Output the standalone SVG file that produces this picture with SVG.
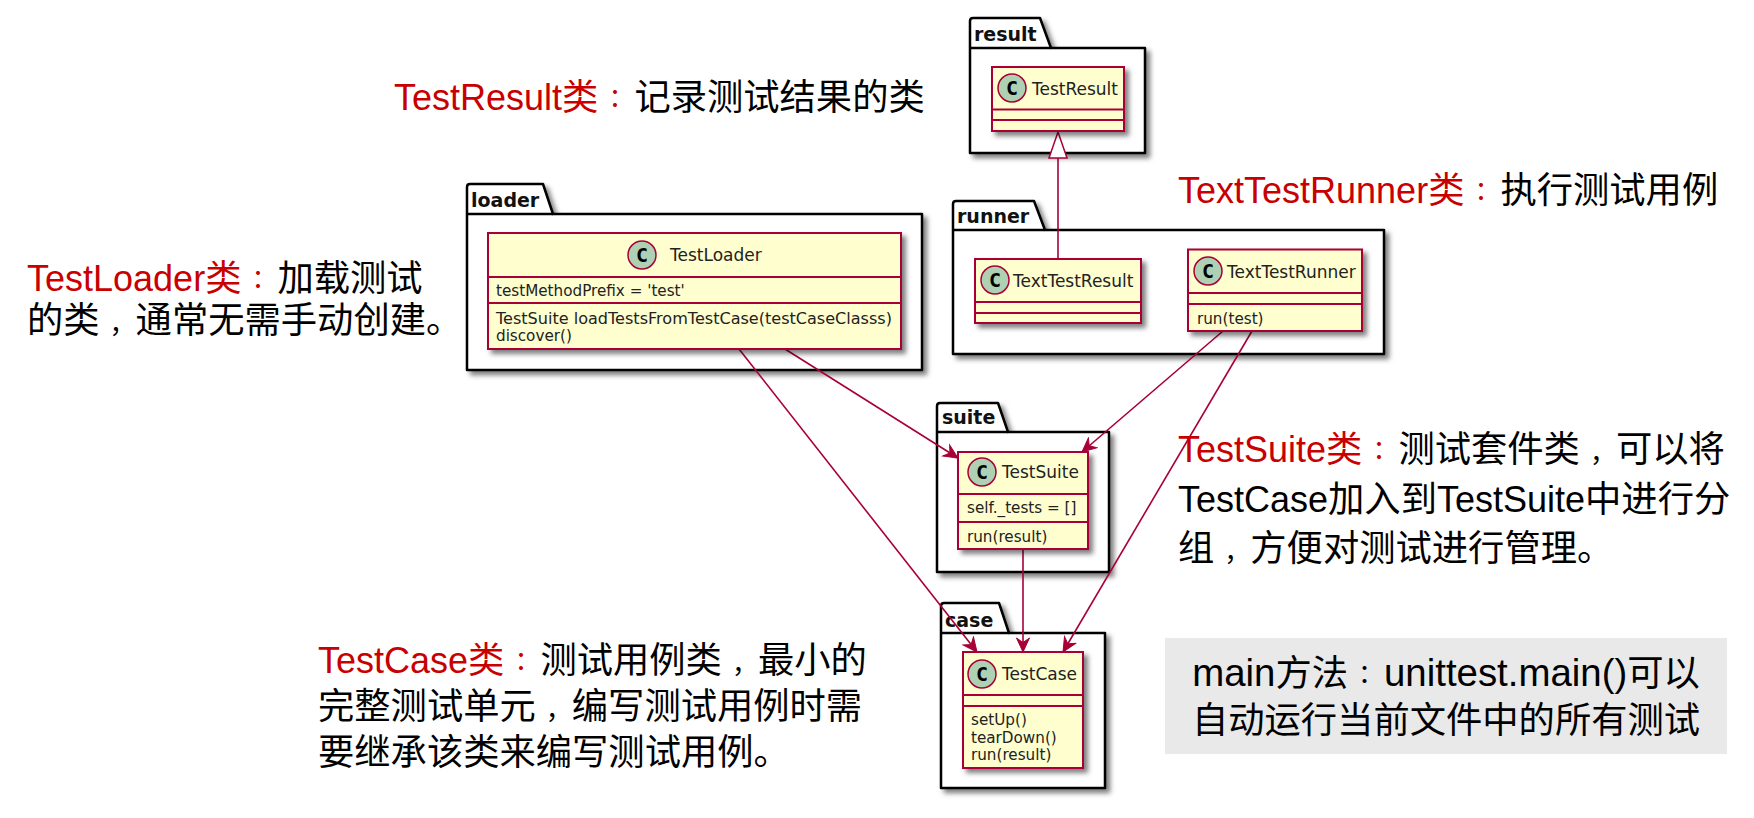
<svg xmlns="http://www.w3.org/2000/svg" width="1754" height="818" viewBox="0 0 1754 818">
<style>
.pkg{fill:#fff;stroke:#000;stroke-width:2.5;stroke-linejoin:round;filter:url(#sh)}
.tab{fill:none;stroke:#000;stroke-width:2.5}
.pl{font:bold 19px "DejaVu Sans",sans-serif;fill:#111}
.box{fill:#FEFECE;stroke:#A80036;stroke-width:2;filter:url(#sh)}
.sep{stroke:#A80036;stroke-width:2;fill:none}
.spot{fill:#ADD1B2;stroke:#A80036;stroke-width:1.5}
.c{font:bold 20px "DejaVu Sans Mono","Liberation Mono",monospace;fill:#000;text-anchor:middle}
.t{font:17px "DejaVu Sans",sans-serif;fill:#222}
.a{font:15.2px "DejaVu Sans",sans-serif;fill:#222}
.e{fill:none;stroke:#A80036;stroke-width:1.6}
.lab{font:36.3px "Liberation Sans","Noto Sans CJK SC",sans-serif;fill:#000}
.lat{font-size:36px}
.big{font-size:38.4px}
.p{font-size:26px}
.r{fill:#C80000}
</style>
<defs>
<filter id="sh" x="-10%" y="-10%" width="125%" height="125%"><feDropShadow dx="4" dy="4" stdDeviation="2.6" flood-color="#000" flood-opacity="0.5"/></filter>
<marker id="open" markerUnits="userSpaceOnUse" markerWidth="18" markerHeight="16" refX="15" refY="8" orient="auto"><path d="M1,1.5 L15,8 L1,14.5 L5.5,8 Z" fill="#A80036" stroke="#A80036" stroke-width="1"/></marker>
</defs>

<g id="pkg-result"><path class="pkg" d="M970,48V21q0,-3 3,-3H1040L1051,48H1145V153H970Z"/><path class="tab" d="M970,48H1051"/><text class="pl" x="974" y="41">result</text></g>
<g id="pkg-runner"><path class="pkg" d="M953,230V204q0,-3 3,-3H1034L1045,230H1384V354H953Z"/><path class="tab" d="M953,230H1045"/><text class="pl" x="957" y="223">runner</text></g>
<g id="pkg-loader"><path class="pkg" d="M467,214V187q0,-3 3,-3H543L553,214H922V370H467Z"/><path class="tab" d="M467,214H553"/><text class="pl" x="471" y="207">loader</text></g>
<g id="pkg-suite"><path class="pkg" d="M937,432V406q0,-3 3,-3H998L1008,432H1109V572H937Z"/><path class="tab" d="M937,432H1008"/><text class="pl" x="942" y="424">suite</text></g>
<g id="pkg-case"><path class="pkg" d="M941,633V606q0,-3 3,-3H999L1009,633H1105V788H941Z"/><path class="tab" d="M941,633H1009"/><text class="pl" x="945" y="627">case</text></g>

<g id="connectors">
<path class="e" d="M1058,258V158"/>
<path d="M1058,132L1067,158H1049Z" fill="#fff" stroke="#A80036" stroke-width="1.5"/>
<path class="e" marker-end="url(#open)" d="M785,349L958,458"/>
<path class="e" marker-end="url(#open)" d="M739,349L977,652"/>
<path class="e" marker-end="url(#open)" d="M1223,331L1082,452"/>
<path class="e" marker-end="url(#open)" d="M1252,331L1063,652"/>
<path class="e" marker-end="url(#open)" d="M1023,549V652"/>
</g>

<g id="TestResult"><rect class="box" x="992" y="67" width="132" height="64"/><path class="sep" d="M992,109.5H1124M992,120H1124"/><circle class="spot" cx="1012" cy="88" r="14"/><text class="c" x="1012" y="95">C</text><text class="t" x="1032" y="95">TestResult</text></g>
<g id="TextTestResult"><rect class="box" x="975" y="259" width="166" height="64"/><path class="sep" d="M975,302H1141M975,313H1141"/><circle class="spot" cx="995" cy="280" r="14"/><text class="c" x="995" y="287">C</text><text class="t" x="1013" y="287">TextTestResult</text></g>
<g id="TextTestRunner"><rect class="box" x="1188" y="249.5" width="174" height="81.5"/><path class="sep" d="M1188,293H1362M1188,304H1362"/><circle class="spot" cx="1208" cy="271" r="14"/><text class="c" x="1208" y="278">C</text><text class="t" x="1227" y="278">TextTestRunner</text><text class="a" x="1197" y="324">run(test)</text></g>
<g id="TestLoader"><rect class="box" x="488" y="233" width="413" height="116"/><path class="sep" d="M488,277H901M488,303H901"/><circle class="spot" cx="642" cy="255" r="14"/><text class="c" x="642" y="262">C</text><text class="t" x="670" y="261">TestLoader</text><text class="a" x="496" y="296">testMethodPrefix = 'test'</text><text class="a" x="496" y="324" textLength="396" lengthAdjust="spacingAndGlyphs">TestSuite loadTestsFromTestCase(testCaseClasss)</text><text class="a" x="496" y="341">discover()</text></g>
<g id="TestSuite"><rect class="box" x="958" y="452" width="130" height="97"/><path class="sep" d="M958,494H1088M958,522H1088"/><circle class="spot" cx="982" cy="472" r="14"/><text class="c" x="982" y="479">C</text><text class="t" x="1002" y="478">TestSuite</text><text class="a" x="967" y="513">self._tests = []</text><text class="a" x="967" y="542">run(result)</text></g>
<g id="TestCase"><rect class="box" x="963" y="652" width="120" height="116"/><path class="sep" d="M963,695H1083M963,706H1083"/><circle class="spot" cx="982" cy="674" r="14"/><text class="c" x="982" y="681">C</text><text class="t" x="1002" y="680">TestCase</text><text class="a" x="971" y="725">setUp()</text><text class="a" x="971" y="743">tearDown()</text><text class="a" x="971" y="760">run(result)</text></g>

<g id="labels">
<text class="lab" x="394" y="110"><tspan class="r"><tspan class="lat">TestResult</tspan>类<tspan class="p" dx="10" dy="-3">：</tspan></tspan><tspan dy="3">记录测试结果的类</tspan></text>
<text class="lab" x="1178" y="203"><tspan class="r"><tspan class="lat">TextTestRunner</tspan>类<tspan class="p" dx="10" dy="-3">：</tspan></tspan><tspan dy="3">执行测试用例</tspan></text>
<text class="lab" x="27" y="291"><tspan class="r"><tspan class="lat">TestLoader</tspan>类<tspan class="p" dx="10" dy="-3">：</tspan></tspan><tspan dy="3">加载测试</tspan></text>
<text class="lab" x="27" y="333">的类<tspan class="p" dx="10">，</tspan>通常无需手动创建。</text>
<text class="lab" x="1178" y="462"><tspan class="r"><tspan class="lat">TestSuite</tspan>类<tspan class="p" dx="10" dy="-3">：</tspan></tspan><tspan dy="3">测试套件类</tspan><tspan class="p" dx="10">，</tspan>可以将</text>
<text class="lab" x="1178" y="512"><tspan class="lat">TestCase</tspan>加入到<tspan class="lat">TestSuite</tspan>中进行分</text>
<text class="lab" x="1178" y="561">组<tspan class="p" dx="10">，</tspan>方便对测试进行管理。</text>
<text class="lab" x="318" y="673"><tspan class="r"><tspan class="lat">TestCase</tspan>类<tspan class="p" dx="10" dy="-3">：</tspan></tspan><tspan dy="3">测试用例类</tspan><tspan class="p" dx="10">，</tspan>最小的</text>
<text class="lab" x="318" y="719">完整测试单元<tspan class="p" dx="10">，</tspan>编写测试用例时需</text>
<text class="lab" x="318" y="765">要继承该类来编写测试用例。</text>
</g>
<g id="main-note"><rect x="1165" y="638" width="562" height="116" fill="#E9E9E9"/>
<text class="lab" x="1446" y="686" text-anchor="middle"><tspan class="big">main</tspan>方法<tspan class="p" dx="10" dy="-3">：</tspan><tspan class="big" dy="3">unittest.main()</tspan>可以</text>
<text class="lab" x="1446" y="733" text-anchor="middle">自动运行当前文件中的所有测试</text></g>
</svg>
